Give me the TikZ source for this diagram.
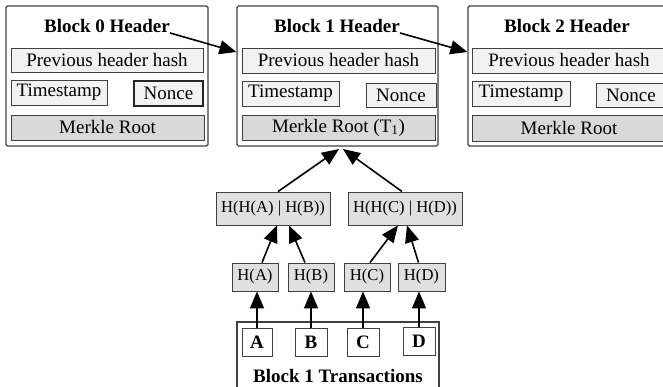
\documentclass[tikz,border=0pt]{standalone}
\usepackage{fontspec}
\setmainfont{Liberation Serif}
\usetikzlibrary{arrows.meta}
\begin{document}
\begin{tikzpicture}[x=1pt,y=-1pt,
 outer/.style={draw=black!75, line width=1.2pt, fill=white, rounded corners=1.5pt, inner sep=0pt},
 field/.style={draw=black!75, line width=0.9pt, fill=black!5, inner sep=0pt, font=\fontsize{19}{22}\selectfont},
 root/.style={field, fill=black!15},
 hnode/.style={draw=black!75, line width=0.9pt, fill=black!12, inner sep=0pt, font=\fontsize{16.6}{19}\selectfont},
 tx/.style={draw=black!75, line width=0.9pt, fill=white, inner sep=0pt, font=\bfseries\fontsize{19}{22}\selectfont},
 title/.style={font=\bfseries\fontsize{19}{22}\selectfont, inner sep=0pt, anchor=base},
 arr/.style={line width=1.6pt, -{Triangle[length=17pt,width=14pt]}}
]
\useasboundingbox (0,0) rectangle (663,387);

% Block 0
\node[outer, minimum width=202pt, minimum height=140pt] (b0) at (107,76) {};
\node[title] (t0) at (107,33) {Block 0 Header};
\node[field, minimum width=192pt, minimum height=24pt] (p0) at (107,60) {Previous header hash};
\node[field, minimum width=96pt, minimum height=25pt] (ts0) at (59,92.5) {Timestamp};
\node[field, minimum width=69pt, minimum height=25pt, line width=1.3pt, draw=black!85] (n0) at (168.5,93.5) {Nonce};
\node[root, minimum width=193pt, minimum height=25pt] (m0) at (107.5,127.5) {Merkle Root};

% Block 1
\node[outer, minimum width=201pt, minimum height=140pt] (b1) at (337.5,76) {};
\node[title] (t1) at (337,33) {Block 1 Header};
\node[field, minimum width=193pt, minimum height=25pt] (p1) at (338.5,60.5) {Previous header hash};
\node[field, minimum width=97pt, minimum height=25pt] (ts1) at (290.5,93.5) {Timestamp};
\node[field, minimum width=70pt, minimum height=24pt] (n1) at (401,95) {Nonce};
\node[root, minimum width=193pt, minimum height=25pt] (m1) at (338.5,127.5) {Merkle Root (T\textsubscript{1})};

% Block 2
\node[outer, minimum width=200pt, minimum height=140pt] (b2) at (568,76) {};
\node[title] (t2) at (567,33) {Block 2 Header};
\node[field, minimum width=194pt, minimum height=25pt] (p2) at (569,60.5) {Previous header hash};
\node[field, minimum width=98pt, minimum height=25pt] (ts2) at (521,93.5) {Timestamp};
\node[field, minimum width=70pt, minimum height=24pt] (n2) at (631,95) {Nonce};
\node[root, minimum width=194pt, minimum height=26pt] (m2) at (569,128) {Merkle Root};

% chain arrows
\draw[arr] (t0.base east) -- (b1.west |- 0,52);
\draw[arr] (t1.base east) -- (b2.west |- 0,52);

% Merkle tree
\coordinate (mt) at (341,149);
\node[hnode, minimum width=114pt, minimum height=33pt] (hab) at (273,208.5) {H(H(A) | H(B))};
\node[hnode, minimum width=114pt, minimum height=33pt] (hcd) at (405,208.5) {H(H(C) | H(D))};
\node[hnode, minimum width=46pt, minimum height=28pt] (ha) at (255,277) {H(A)};
\node[hnode, minimum width=46pt, minimum height=28pt] (hb) at (311,277) {H(B)};
\node[hnode, minimum width=46pt, minimum height=28pt] (hc) at (367,277) {H(C)};
\node[hnode, minimum width=47pt, minimum height=28pt] (hd) at (421.5,277) {H(D)};

% transactions
\node[outer, rounded corners=0pt, minimum width=202pt, minimum height=80pt] (txb) at (338,362) {};
\node[title] (tt) at (338,382) {Block 1 Transactions};
\node[tx, minimum width=30pt, minimum height=28pt] (A) at (257,342) {A};
\node[tx, minimum width=32pt, minimum height=28pt] (B) at (311,342) {B};
\node[tx, minimum width=32pt, minimum height=28pt] (C) at (363,342) {C};
\node[tx, minimum width=32pt, minimum height=28pt] (D) at (419,341) {D};

\draw[arr] ([xshift=5pt]hab.north) -- ([xshift=-2pt]mt);
\draw[arr] ([xshift=-3pt]hcd.north) -- ([xshift=2pt]mt);
\draw[arr] ([xshift=7pt]ha.north) -- ([xshift=4pt]hab.south);
\draw[arr] ([xshift=-6pt]hb.north) -- ([xshift=16pt]hab.south);
\draw[arr] ([xshift=3pt]hc.north) -- ([xshift=-7pt]hcd.south);
\draw[arr] ([xshift=-3pt]hd.north) -- ([xshift=2pt]hcd.south);
\draw[arr] (A.north) -- (A.north |- ha.south);
\draw[arr] (B.north) -- (B.north |- hb.south);
\draw[arr] (C.north) -- (C.north |- hc.south);
\draw[arr] (D.north) -- (D.north |- hd.south);
\end{tikzpicture}
\end{document}
